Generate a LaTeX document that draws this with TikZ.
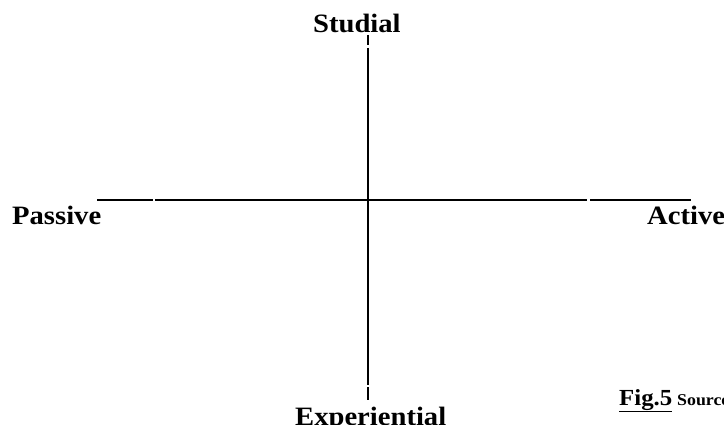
\documentclass[tikz,border=0pt]{standalone}
\usepackage{fontspec}
\newfontfamily\lab[FakeStretch=1.08]{Liberation Serif}
\begin{document}
\begin{tikzpicture}[x=1pt,y=-1pt,
  axis/.style={line width=1.6pt,black},
  biglabel/.style={inner sep=0pt,anchor=base west,font=\lab\bfseries\fontsize{26.5}{30}\selectfont},
  figlabel/.style={inner sep=0pt,anchor=base west,font=\lab\bfseries\fontsize{23}{27}\selectfont}]
\useasboundingbox (0,0) rectangle (724,425);
\clip (0,0) rectangle (724,425);
% horizontal axis pieces
\coordinate (h1) at (97,200);
\coordinate (h2) at (153,200);
\coordinate (h3) at (155,200);
\coordinate (h4) at (587,200);
\coordinate (h5) at (590,200);
\coordinate (h6) at (691,200);
\draw[axis] (h1) -- (h2);
\draw[axis] (h3) -- (h4);
\draw[axis] (h5) -- (h6);
% vertical axis pieces
\coordinate (v1) at (368,35);
\coordinate (v2) at (368,45);
\coordinate (v3) at (368,48);
\coordinate (v4) at (368,385);
\coordinate (v5) at (368,387);
\coordinate (v6) at (368,400);
\draw[axis] (v1) -- (v2);
\draw[axis] (v3) -- (v4);
\draw[axis] (v5) -- (v6);
% labels
\node[biglabel] (studial) at (313,33) {Studial};
\node[biglabel] (passive) at (12,225) {Passive};
\node[biglabel] (active) at (647,225) {Active};
\node[biglabel] (exper) at (295,425) {Experiential};
\node[figlabel] (fig) at (619,405) {\underline{Fig.5}};
\node[inner sep=0pt,anchor=base west,font=\lab\bfseries\fontsize{16.5}{20}\selectfont] (src) at (677,405) {Source};
\end{tikzpicture}
\end{document}
